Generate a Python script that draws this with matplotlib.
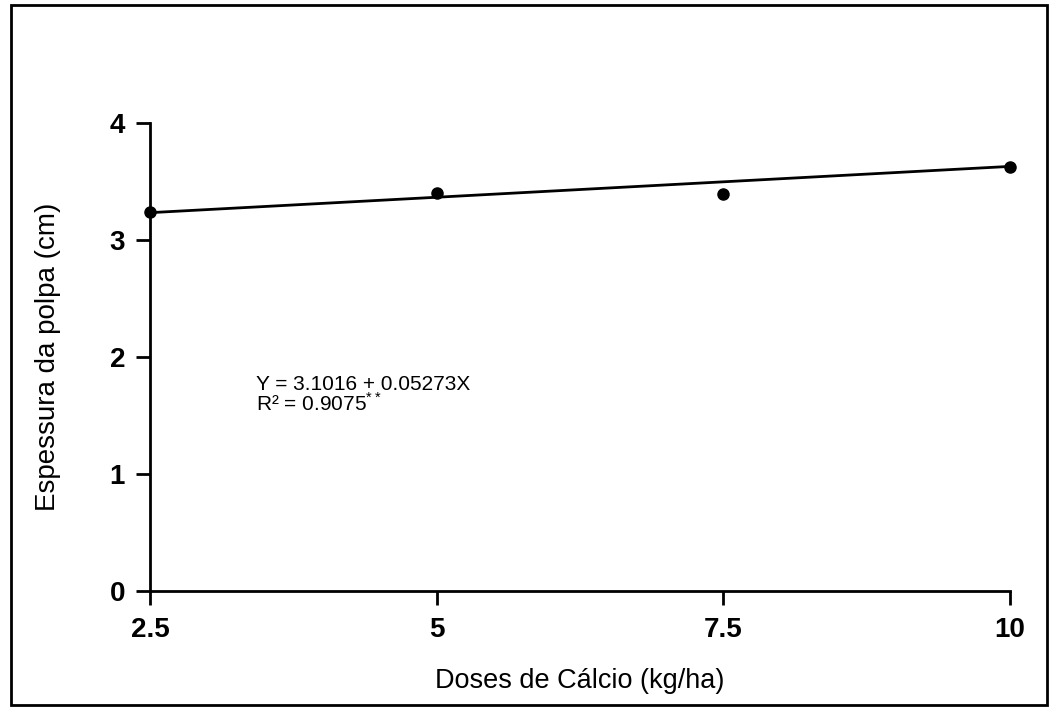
import matplotlib
matplotlib.use("Agg")
import matplotlib.pyplot as plt
from matplotlib.patches import Rectangle

plt.rcParams['font.family'] = ['Liberation Sans', 'DejaVu Sans']
plt.rcParams['mathtext.fontset'] = 'custom'
plt.rcParams['mathtext.rm'] = 'Liberation Sans'

# doses de calcio (kg/ha) e espessura da polpa (cm)
doses = [2.5, 5, 7.5, 10]
espessura = [3.24, 3.40, 3.39, 3.62]
# regressao: Y = a + bX
a = 3.1016
b = 0.05273
xticks = [2.5, 5, 7.5, 10]
xticklabels = ['2.5', '5', '7.5', '10']
yticks = [0, 1, 2, 3, 4]

fig = plt.figure(figsize=(10.5, 7.1), dpi=100)
ax = fig.add_axes([0.1429, 0.1676, 0.819, 0.6592])

# linha ajustada
x_fit = [doses[0], doses[-1]]
y_fit = [a + b * x for x in x_fit]
ax.plot(x_fit, y_fit, color='black', lw=2, zorder=2, clip_on=False)
ax.plot(doses, espessura, 'o', color='black', ms=8, zorder=3, clip_on=False)

ax.set_xlim(2.5, 10)
ax.set_ylim(0, 4)
ax.set_xticks(xticks)
ax.set_xticklabels(xticklabels)
ax.set_yticks(yticks)
ax.spines['top'].set_visible(False)
ax.spines['right'].set_visible(False)
for s in ['left', 'bottom']:
    ax.spines[s].set_linewidth(2)
ax.tick_params(axis='both', direction='out', length=10, width=2,
               labelsize=20, pad=9)
ax.tick_params(axis='y', pad=8)
for lbl in ax.get_xticklabels() + ax.get_yticklabels():
    lbl.set_fontweight('semibold')

ax.set_xlabel('Doses de Cálcio (kg/ha)', fontsize=19.5, labelpad=18)
ax.set_ylabel('Espessura da polpa (cm)', fontsize=20, labelpad=35)

ax.text(3.42, 1.85, 'Y = 3.1016 + 0.05273X\nR² = 0.9075$^{**}$',
        fontsize=15, va='top', ha='left', linespacing=0.95)

# moldura da figura
fig.patches.append(Rectangle((0.010, 0.007), 0.987, 0.986, transform=fig.transFigure,
                             fill=False, edgecolor='black', lw=2))

fig.savefig('out.png', dpi=100)
